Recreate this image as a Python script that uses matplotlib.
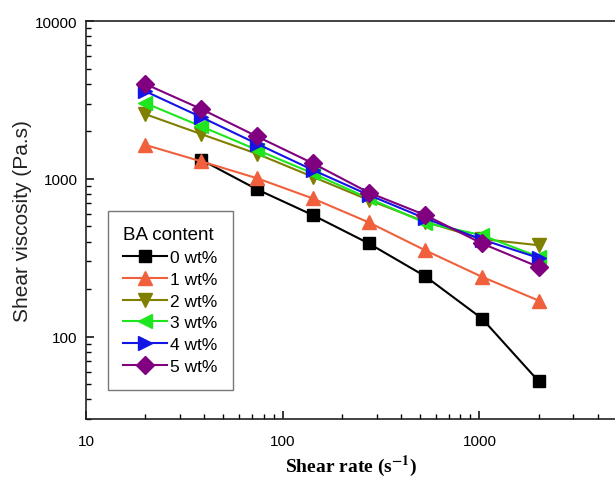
import matplotlib
matplotlib.use("Agg")
import matplotlib.pyplot as plt
from matplotlib.ticker import NullFormatter, FuncFormatter

# shear rate (1/s) and shear viscosity (Pa.s) for each BA content
rate = [20, 38.5, 74, 142, 274, 530, 1030, 2000]
visc_0 = [None, 1320, 857, 589, 389, 241, 130, 52]
visc_1 = [1640, 1290, 1008, 751, 529, 352, 239, 169]
visc_2 = [2570, 1920, 1440, 1030, 733, 534, 415, 379]
visc_3 = [3020, 2150, 1525, 1083, 751, 526, 439, 320]
visc_4 = [3590, 2460, 1667, 1138, 789, 561, 412, 315]
visc_5 = [3990, 2770, 1855, 1255, 817, 589, 389, 276]
labels = ["0 wt%", "1 wt%", "2 wt%", "3 wt%", "4 wt%", "5 wt%"]

series = [visc_0, visc_1, visc_2, visc_3, visc_4, visc_5]
colors = ["black", "#f0603c", "#808000", "#1ee61e", "#1414e6", "#800080"]
markers = ["s", "^", "v", "<", ">", "D"]
msizes = [8.5, 10, 10, 10, 10, 9]

plt.rcParams["font.family"] = ["Liberation Sans", "DejaVu Sans"]
plt.rcParams["mathtext.fontset"] = "stix"

fig = plt.figure(figsize=(6.15, 4.81), dpi=100)
ax = fig.add_axes([0.1398, 0.1268, 0.8634, 0.8274])

for ys, c, m, ms, lab in zip(series, colors, markers, msizes, labels):
    xs = [x for x, y in zip(rate, ys) if y is not None]
    yv = [y for y in ys if y is not None]
    ax.plot(xs, yv, color=c, marker=m, ms=ms, lw=1.5, mec=c, mfc=c, label=lab)

ax.set_xscale("log"); ax.set_yscale("log")
ax.set_xlim(10, 5000); ax.set_ylim(30, 10000)
ax.tick_params(which="both", direction="in", top=False, right=False, labelsize=11)
ax.tick_params(which="major", length=6, width=1.1)
ax.tick_params(which="minor", length=3.5, width=1.0)
ax.tick_params(axis="x", pad=11)
ax.tick_params(axis="y", pad=6)
ax.xaxis.set_major_formatter(FuncFormatter(lambda v, p: f"{v:g}"))
ax.yaxis.set_major_formatter(FuncFormatter(lambda v, p: f"{v:g}"))
ax.yaxis.set_minor_formatter(NullFormatter()); ax.xaxis.set_minor_formatter(NullFormatter())
for s in ax.spines.values():
    s.set_linewidth(1.2); s.set_color("#222222")

ax.set_ylabel("Shear viscosity (Pa.s)", fontsize=15, color="#222222", labelpad=2)
ax.set_xlabel(r"Shear rate (s$^{\mathbf{-1}}$)", fontsize=14, fontweight="bold",
              family=["Liberation Serif"], labelpad=3)

leg = ax.legend(title="BA content", loc="upper left", bbox_to_anchor=(0.041, 0.523),
                borderaxespad=0, fontsize=12.5, title_fontsize=13.5, alignment="left",
                fancybox=False, frameon=True, handlelength=2.5, handletextpad=0.2,
                labelspacing=0.38, borderpad=0.9)
leg.get_frame().set_edgecolor("#555555"); leg.get_frame().set_linewidth(1.0)

fig.savefig("out.png", dpi=100)
